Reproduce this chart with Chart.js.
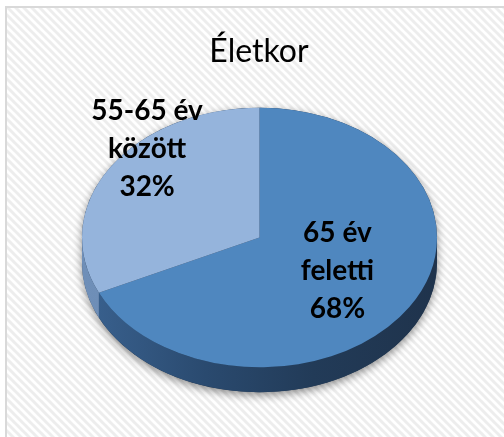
<!DOCTYPE html>
<html><head><meta charset="utf-8">
<script src="https://cdn.jsdelivr.net/npm/chart.js@4/dist/chart.umd.min.js"></script>
<style>html,body{margin:0;padding:0;background:#fff}#wrap{width:504px;height:437px;position:relative}</style>
</head><body><div id="wrap"><canvas id="c" width="504" height="437"></canvas></div>
<script>
const chartTitle = 'Életkor';
const categories = ['65 év feletti', '55-65 év között'];
const labelLines = [['65 év', 'feletti'], ['55-65 év', 'között']];
const values = [68, 32];

const topColors = ['#4F87BF', '#95B4DC'];
const TILT = 0.731, DEPTH = 25;
const labelPlace = [{f: 0.52, dy: -3}, {f: 0.75, dy: -36}];

function stripePattern(ctx) {
  const t = document.createElement('canvas');
  t.width = 8; t.height = 8;
  const g = t.getContext('2d');
  g.fillStyle = '#ffffff'; g.fillRect(0, 0, 8, 8);
  g.strokeStyle = '#ededed'; g.lineWidth = 3;
  for (const o of [-8, 0, 8]) { g.beginPath(); g.moveTo(o - 1, -1); g.lineTo(o + 9, 9); g.stroke(); }
  return ctx.createPattern(t, 'repeat');
}

const tiltPlugin = {
  id: 'tilt',
  beforeDraw(chart) {
    const ctx = chart.ctx, W = chart.width, H = chart.height;
    ctx.save();
    ctx.fillStyle = '#fff'; ctx.fillRect(0, 0, W, H);
    ctx.fillStyle = stripePattern(ctx); ctx.fillRect(6, 7, W, H);
    ctx.strokeStyle = '#d9d9d9'; ctx.lineWidth = 2;
    ctx.beginPath(); ctx.moveTo(W, 7); ctx.lineTo(6, 7); ctx.lineTo(6, H); ctx.stroke();
    ctx.fillStyle = '#000'; ctx.font = '32px Lato'; ctx.textAlign = 'center'; ctx.textBaseline = 'alphabetic';
    ctx.fillText(chartTitle, 259, 62);
    ctx.restore();
  },
  beforeDatasetsDraw(chart) {
    const ctx = chart.ctx;
    const arcs = chart.getDatasetMeta(0).data;
    const cx = arcs[0].x, cy = arcs[0].y, R = arcs[0].outerRadius, ry = R * TILT;
    ctx.save();
    ctx.shadowColor = 'rgba(0,0,0,0.45)'; ctx.shadowBlur = 8; ctx.shadowOffsetY = 3;
    ctx.fillStyle = '#203650';
    ctx.beginPath();
    ctx.ellipse(cx, cy + DEPTH, R, ry, 0, 0, Math.PI);
    ctx.lineTo(cx - R, cy);
    ctx.ellipse(cx, cy, R, ry, 0, Math.PI, 2 * Math.PI);
    ctx.closePath(); ctx.fill();
    ctx.restore();
    const grads = [
      [[0, '#3a6290'], [0.35, '#2a4a6f'], [0.65, '#223b58'], [1, '#1f334c']],
      [[0, '#6f8fb8'], [1, '#5a7aa3']]
    ];
    arcs.forEach((a, i) => {
      const g = ctx.createLinearGradient(cx - R, 0, cx + R, 0);
      grads[i].forEach(s => g.addColorStop(s[0], s[1]));
      for (const sh of [-2 * Math.PI, 0, 2 * Math.PI]) {
        const s = Math.max(a.startAngle + sh, 0), e = Math.min(a.endAngle + sh, Math.PI);
        if (e > s) {
          ctx.beginPath();
          ctx.ellipse(cx, cy, R, ry, 0, s, e);
          ctx.ellipse(cx, cy + DEPTH, R, ry, 0, e, s, true);
          ctx.closePath(); ctx.fillStyle = g; ctx.fill();
        }
      }
    });
    ctx.save();
    ctx.translate(0, cy); ctx.scale(1, TILT); ctx.translate(0, -cy);
  },
  afterDatasetsDraw(chart) {
    const ctx = chart.ctx;
    ctx.restore();
    const arcs = chart.getDatasetMeta(0).data;
    const total = values.reduce((p, q) => p + q, 0);
    ctx.save();
    ctx.fillStyle = '#000'; ctx.font = 'bold 28px Lato'; ctx.textAlign = 'center'; ctx.textBaseline = 'middle';
    arcs.forEach((a, i) => {
      const mid = (a.startAngle + a.endAngle) / 2, r = a.outerRadius * labelPlace[i].f;
      const x = a.x + Math.cos(mid) * r, y = a.y + Math.sin(mid) * r * TILT + labelPlace[i].dy;
      const lines = labelLines[i].concat([Math.round(values[i] / total * 100) + '%']);
      lines.forEach((t, j) => ctx.fillText(t, x, y + (j - (lines.length - 1) / 2) * 38));
    });
    ctx.restore();
  }
};

new Chart(document.getElementById('c'), {
  type: 'pie',
  data: { labels: categories, datasets: [{ data: values, backgroundColor: topColors, borderWidth: 0 }] },
  options: {
    responsive: false, animation: false, events: [],
    layout: { padding: { left: 82, right: 67, top: 60, bottom: 22 } },
    plugins: { legend: { display: false }, tooltip: { enabled: false }, title: { display: false } }
  },
  plugins: [tiltPlugin]
});
</script></body></html>
